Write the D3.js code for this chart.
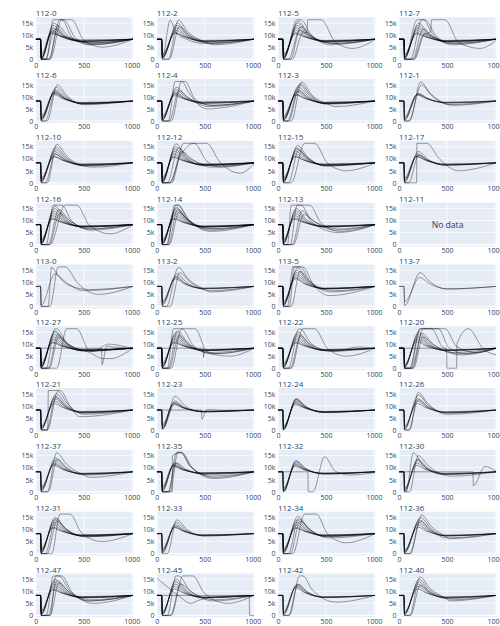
<!DOCTYPE html>
<html>
<head>
<meta charset="utf-8">
<script src="https://cdn.jsdelivr.net/npm/d3@7"></script>
<style>
  html, body { margin: 0; padding: 0; background: #fff; }
  svg { display: block; }
</style>
</head>
<body>
<div id="chart"></div>
<script>
// Panel titles, in grid order (4 per row)
const panelNames = [
  "112-0", "112-2", "112-5", "112-7",
  "112-6", "112-4", "112-3", "112-1",
  "112-10", "112-12", "112-15", "112-17",
  "112-16", "112-14", "112-13", "112-11",
  "113-0", "113-2", "113-5", "113-7",
  "112-27", "112-25", "112-22", "112-20",
  "112-21", "112-23", "112-24", "112-26",
  "112-37", "112-35", "112-32", "112-30",
  "112-31", "112-33", "112-34", "112-36",
  "112-47", "112-45", "112-42", "112-40"
];

// Axis ticks
const xTickValues = [0, 500, 1000];
const xTickLabels = ["0", "500", "1000"];
const yTickValues = [0, 5, 10, 15];
const yTickLabels = ["0", "5k", "10k", "15k"];

// Traces per panel: each trace is a flat list of x, value (thousands) pairs
const s112_0 = [
  [0,8.3,52,8.3,60,0,110,0,184,16.4,271,16.4,380,9,560,6,1012,8.3],
  [0,8.3,50,8.3,58,0,150,0,271,16.4,375,16.4,500,8,690,5,1012,8.3],
  [0,8.3,50,8.3,57,0.3,190,15,290,10.5,450,7.5,600,6.5,1012,8.3],
  [0,8.3,49,8.3,56,0.5,185,14,285,10,450,7.4,560,6.8,1012,8.3],
  [0,8.3,52,8.3,60,0,180,13,280,9.6,480,7.3,1012,8.3],
  [0,8.3,50,8.3,58,1,175,12,275,9.3,480,7.4,1012,8.3],
  [0,8.3,51,8.3,59,0.5,170,11.5,270,9.2,480,7.6,1012,8.3],
  [0,8.3,50,8.3,56,2,160,11,270,9.4,480,7.8,1012,8.3],
  [0,8.3,52,8.3,60,0,100,0,200,12.5,300,9.5,480,7.4,1012,8.3],
  [0,8.3,50,8.3,58,0,140,0,230,14,330,10,480,7.2,600,6.8,1012,8.3],
  [0,8.3,51,8.3,58,0.3,165,10.5,280,9.5,480,8,1012,8.3],
  [0,8.3,50,8.3,57,0,140,0,250,16.4,290,16.4,420,8.5,600,6,1012,8.3]
];
const s112_2 = [
  [0,8.3,50,8.3,56,0.5,140,16.2,200,11,300,8.5,500,6.5,1012,8.3],
  [0,8.3,52,8.3,60,0,120,0,225,16.2,320,11.5,480,7.5,600,6,1012,8.3],
  [0,8.3,50,8.3,57,0.3,215,15,315,10.8,480,7.4,580,6.5,1012,8.3],
  [0,8.3,51,8.3,58,0.5,210,14,310,10.2,480,7.4,1012,8.3],
  [0,8.3,50,8.3,58,0.8,205,13,305,9.8,480,7.3,1012,8.3],
  [0,8.3,52,8.3,60,1,200,12,300,9.4,480,7.4,1012,8.3],
  [0,8.3,50,8.3,57,1.5,190,11,290,9.2,480,7.6,1012,8.3],
  [0,8.3,49,8.3,56,2,185,10.8,290,9.4,480,7.8,1012,8.3],
  [0,8.3,52,8.3,60,0,130,0,235,13.5,330,10,520,6.8,1012,8.3]
];
const s112_5 = [
  [0,8.3,50,8.3,57,0,200,16.4,240,16.4,340,10.5,500,7,1012,8.3],
  [0,8.3,51,8.3,58,0.5,205,15,305,10.8,480,7.3,600,6.5,1012,8.3],
  [0,8.3,50,8.3,57,0.5,200,14,300,10.3,480,7.4,1012,8.3],
  [0,8.3,52,8.3,59,0.8,195,13,295,9.8,480,7.4,1012,8.3],
  [0,8.3,50,8.3,57,1,190,12,290,9.4,480,7.5,1012,8.3],
  [0,8.3,51,8.3,58,1.5,185,11,285,9.2,480,7.7,1012,8.3],
  [0,8.3,50,8.3,56,2,180,10.5,285,9.2,480,7.8,1012,8.3],
  [0,8.3,52,8.3,60,0,110,0,225,12,300,11,312,16.4,451,16.4,600,7,780,4.5,1012,8.2],
  [0,8.3,50,8.3,58,0,130,0,240,13.5,340,10,540,6,1012,8.3],
  [0,8.3,52,8.3,60,0,150,0,260,11,360,9,560,6.5,1012,8.3],
  [0,8.3,50,8.3,57,0.3,210,15.8,310,11,480,7.2,1012,8.3]
];
const s112_7 = [
  [0,8.3,50,8.3,57,0,190,16.4,250,16.4,350,10.5,500,7,1012,8.3],
  [0,8.3,52,8.3,60,0,120,0,240,16.4,270,16.4,380,10,520,6.5,1012,8.3],
  [0,8.3,51,8.3,58,0.5,205,15,305,10.8,480,7.3,1012,8.3],
  [0,8.3,50,8.3,57,0.5,200,14,300,10.3,480,7.4,1012,8.3],
  [0,8.3,52,8.3,59,0.8,195,13,295,9.8,480,7.4,1012,8.3],
  [0,8.3,50,8.3,57,1,190,12,290,9.4,480,7.5,1012,8.3],
  [0,8.3,51,8.3,58,1.5,185,11,285,9.2,480,7.7,1012,8.3],
  [0,8.3,52,8.3,60,0,150,0,250,10,330,11.5,340,16.4,479,16.4,620,7,845,4.5,1012,7.8],
  [0,8.3,50,8.3,58,0,140,0,250,12.5,350,9.6,560,6,1012,8.3],
  [0,8.3,51,8.3,59,0,160,0,270,10.5,380,8.8,600,6.5,1012,8.3],
  [0,8.3,50,8.3,56,2,180,10.5,285,9.2,480,7.8,1012,8.3]
];
const s112_6 = [
  [0,8.3,50,8.3,57,0,120,0,225,15,325,10.5,500,6.8,1012,8.3],
  [0,8.3,52,8.3,59,0.3,215,14,315,10.2,490,7,1012,8.3],
  [0,8.3,50,8.3,57,0.5,205,13,305,9.8,480,7.2,1012,8.3],
  [0,8.3,51,8.3,58,0.8,200,12.5,300,9.6,480,7.3,1012,8.3],
  [0,8.3,50,8.3,57,1,195,12,295,9.4,480,7.4,1012,8.3],
  [0,8.3,52,8.3,59,1.5,190,11.5,290,9.3,480,7.5,1012,8.3],
  [0,8.3,50,8.3,56,2,185,11,285,9.2,480,7.7,1012,8.3],
  [0,8.3,51,8.3,58,0,100,0,200,11.8,300,9.5,480,7.3,1012,8.3]
];
const s112_4 = [
  [0,8.3,50,8.3,57,0,120,0,191,16.4,295,16.4,400,9,560,6.5,1012,8.3],
  [0,8.3,52,8.3,60,0,150,0,260,16.4,330,12,520,5,1012,8.3],
  [0,8.3,50,8.3,57,0.3,205,14,305,10.3,480,7.2,600,6.5,1012,8.3],
  [0,8.3,51,8.3,58,0.5,200,13,300,9.8,480,7.3,1012,8.3],
  [0,8.3,50,8.3,57,1,195,12,295,9.4,480,7.4,1012,8.3],
  [0,8.3,52,8.3,59,1.5,190,11.5,290,9.3,480,7.6,1012,8.3],
  [0,8.3,50,8.3,56,2,185,11,285,9.2,480,7.8,1012,8.3],
  [0,8.3,51,8.3,58,0,130,0,230,12.5,330,9.6,540,6,1012,8.3],
  [0,8.3,50,8.3,57,0.5,180,10.5,285,9.2,480,7.9,1012,8.3]
];
const s112_3 = [
  [0,8.3,50,8.3,57,0,139,0,250,16.2,350,11,520,7,600,6,1012,8.3],
  [0,8.3,51,8.3,58,0.3,225,15,325,10.8,490,7.2,1012,8.3],
  [0,8.3,50,8.3,57,0.5,215,14,315,10.3,480,7.3,1012,8.3],
  [0,8.3,52,8.3,59,0.8,210,13,310,9.8,480,7.4,1012,8.3],
  [0,8.3,50,8.3,57,1,200,12,300,9.4,480,7.5,1012,8.3],
  [0,8.3,51,8.3,58,1.5,190,11,290,9.2,480,7.7,1012,8.3],
  [0,8.3,50,8.3,56,2,185,10.8,285,9.3,480,7.8,1012,8.3],
  [0,8.3,52,8.3,60,0,110,0,235,15.5,335,11,500,7,1012,8.3],
  [0,8.3,50,8.3,58,0,100,0,210,12.5,310,9.6,480,7.3,1012,8.3]
];
const s112_1 = [
  [0,8.3,50,8.3,57,0,110,0,225,16.2,325,11.5,500,7,560,6.5,1012,8.3],
  [0,8.3,51,8.3,58,0,100,0,235,15,335,10.8,520,6.8,1012,8.3],
  [0,8.3,50,8.3,57,0.5,195,11.2,300,9.3,480,7.6,1012,8.3],
  [0,8.3,52,8.3,59,1,190,11,295,9.2,480,7.7,1012,8.3],
  [0,8.3,50,8.3,56,1.5,185,10.8,290,9.2,480,7.8,1012,8.3],
  [0,8.3,51,8.3,58,0.5,200,11.5,300,9.4,500,7.4,1012,8.3]
];
const s112_10 = [
  [0,8.3,50,8.3,57,0,120,0,219,16,320,11.2,500,7,600,6.5,1012,8.3],
  [0,8.3,51,8.3,58,0.3,210,15,310,10.8,490,7.2,1012,8.3],
  [0,8.3,50,8.3,57,0.5,205,14,305,10.3,480,7.3,1012,8.3],
  [0,8.3,52,8.3,59,0.8,200,13,300,9.8,480,7.4,1012,8.3],
  [0,8.3,50,8.3,57,1,195,12,295,9.4,480,7.5,1012,8.3],
  [0,8.3,51,8.3,58,1.5,190,11,290,9.2,480,7.7,1012,8.3],
  [0,8.3,50,8.3,56,2,185,10.8,285,9.3,480,7.8,1012,8.3],
  [0,8.3,52,8.3,60,0,100,0,205,12,305,9.5,520,7,1012,8.3]
];
const s112_12 = [
  [0,8.3,52,8.3,60,0,156,0,278,16.4,521,16.4,650,9,868,4,1012,8],
  [0,8.3,50,8.3,57,0,130,0,243,11,389,16.4,520,9,660,6.5,1012,8.3],
  [0,8.3,50,8.3,57,0,200,16.2,300,11,480,7.2,1012,8.3],
  [0,8.3,51,8.3,58,0.3,195,15,295,10.6,480,7.3,1012,8.3],
  [0,8.3,50,8.3,57,0.5,190,14,290,10.2,480,7.4,1012,8.3],
  [0,8.3,52,8.3,59,0.8,185,13,285,9.8,480,7.4,1012,8.3],
  [0,8.3,50,8.3,57,1,180,12,280,9.4,480,7.5,1012,8.3],
  [0,8.3,51,8.3,58,1.5,175,11,275,9.2,480,7.7,1012,8.3],
  [0,8.3,50,8.3,56,2,170,10.5,275,9.2,480,7.8,1012,8.3],
  [0,8.3,52,8.3,60,0,140,0,260,13,360,10,560,6.5,1012,8.3],
  [0,8.3,50,8.3,58,0,110,0,225,14.5,325,10.5,600,7,1012,8.3]
];
const s112_15 = [
  [0,8.3,50,8.3,57,0,139,0,278,16.4,382,16.4,520,8,712,5,1012,8.3],
  [0,8.3,51,8.3,58,0.3,205,15.5,305,11,490,7,1012,8.3],
  [0,8.3,50,8.3,57,0.5,200,14.5,300,10.6,480,7.2,1012,8.3],
  [0,8.3,52,8.3,59,0.5,195,14,295,10.3,480,7.3,1012,8.3],
  [0,8.3,50,8.3,57,0.8,190,13,290,9.8,480,7.4,1012,8.3],
  [0,8.3,51,8.3,58,1,185,12,285,9.4,480,7.5,1012,8.3],
  [0,8.3,50,8.3,56,1.5,180,11,280,9.2,480,7.7,1012,8.3],
  [0,8.3,52,8.3,60,0,110,0,215,13.5,315,10,520,7,1012,8.3],
  [0,8.3,50,8.3,57,2,175,10.8,280,9.3,480,7.8,1012,8.3]
];
const s112_17 = [
  [0,8.3,52,8.3,60,0,184,0,186,16.4,288,16.4,420,10,618,5,1012,8.3],
  [0,8.3,50,8.3,57,0.3,200,13,300,9.8,480,7.3,1012,8.3],
  [0,8.3,51,8.3,58,0.5,195,12,295,9.4,480,7.4,1012,8.3],
  [0,8.3,50,8.3,57,1,190,11.5,290,9.3,480,7.5,1012,8.3],
  [0,8.3,52,8.3,59,1.5,185,11,285,9.2,480,7.7,1012,8.3],
  [0,8.3,50,8.3,56,2,180,10.8,285,9.3,480,7.8,1012,8.3],
  [0,8.3,51,8.3,58,0,100,0,205,11.5,305,9.4,480,7.4,1012,8.3]
];
const s112_16 = [
  [0,8.3,50,8.3,57,0,110,0,184,16.4,271,16.4,380,9.5,560,6.5,1012,8.3],
  [0,8.3,52,8.3,60,0,150,0,306,16.4,427,16.4,560,8,774,4.5,1012,8.2],
  [0,8.3,50,8.3,57,0.3,200,16,300,11,480,7.3,1012,8.3],
  [0,8.3,51,8.3,58,0.3,195,15,295,10.7,480,7.3,1012,8.3],
  [0,8.3,50,8.3,57,0.5,190,14,290,10.2,480,7.4,1012,8.3],
  [0,8.3,52,8.3,59,0.8,185,13,285,9.8,480,7.4,1012,8.3],
  [0,8.3,50,8.3,57,1,180,12,280,9.4,480,7.5,1012,8.3],
  [0,8.3,51,8.3,58,1.5,175,11,275,9.2,480,7.7,1012,8.3],
  [0,8.3,50,8.3,56,2,170,10.5,275,9.2,480,7.8,1012,8.3],
  [0,8.3,52,8.3,60,0,140,0,250,13,350,10,560,6.5,1012,8.3],
  [0,8.3,50,8.3,58,0,130,0,240,14.5,340,10.5,580,6,1012,8.3]
];
const s112_14 = [
  [0,8.3,50,8.3,57,0,110,0,185,16.4,225,16.4,330,10.5,560,5.5,1012,8.3],
  [0,8.3,51,8.3,58,0,100,0,200,16.4,215,16.4,320,10.8,520,6.5,1012,8.3],
  [0,8.3,50,8.3,57,0.3,205,15.5,305,10.8,480,7.2,1012,8.3],
  [0,8.3,52,8.3,59,0.3,200,15,300,10.6,480,7.3,1012,8.3],
  [0,8.3,50,8.3,57,0.5,195,14,295,10.2,480,7.4,1012,8.3],
  [0,8.3,51,8.3,58,0.8,190,13,290,9.8,480,7.4,1012,8.3],
  [0,8.3,50,8.3,57,1,185,12,285,9.4,480,7.5,1012,8.3],
  [0,8.3,52,8.3,59,1.5,180,11,280,9.2,480,7.6,1012,8.3],
  [0,8.3,50,8.3,56,2,175,10.5,280,9.2,480,7.8,1012,8.3],
  [0,8.3,51,8.3,58,0,130,0,230,13.5,330,10,560,6,1012,8.3],
  [0,8.3,50,8.3,57,0,120,0,215,14.5,315,10.5,600,6.5,1012,8.3]
];
const s112_13 = [
  [0,8.3,50,8.3,57,0,100,0,139,16.4,243,16.4,350,9.5,625,5,1012,8.3],
  [0,8.3,52,8.3,60,0,130,0,200,16.4,330,16.4,450,9,650,5.5,1012,8.3],
  [0,8.3,50,8.3,57,0.3,190,15,290,10.7,480,7.3,1012,8.3],
  [0,8.3,51,8.3,58,0.5,185,14,285,10.2,480,7.4,1012,8.3],
  [0,8.3,50,8.3,57,0.8,180,13,280,9.8,480,7.4,1012,8.3],
  [0,8.3,52,8.3,59,1,175,12,275,9.4,480,7.5,1012,8.3],
  [0,8.3,50,8.3,57,1.5,170,11,275,9.2,480,7.7,1012,8.3],
  [0,8.3,51,8.3,56,2,165,10.5,270,9.2,480,7.8,1012,8.3],
  [0,8.3,50,8.3,58,0,150,0,250,14,350,10.5,600,6,1012,8.3],
  [0,8.3,52,8.3,60,0,160,0,270,12.5,370,9.8,640,6.5,1012,8.3]
];
const s113_0 = [
  [0,8.3,50,8.3,57,0,130,0,165,16.2,230,13,330,9,560,7,1012,8.3],
  [0,8.3,50,8.3,57,0,149,0,236,16.4,306,16.4,440,9.5,653,5,1012,8.3],
  [0,8.3,51,8.3,58,0.5,201,13.5,300,10.5,500,6.5,1012,8.3]
];
const s113_2 = [
  [0,8.3,50,8.3,57,0,100,0,225,16.2,325,11.5,500,7,560,6,1012,8.3],
  [0,8.3,52,8.3,60,0,139,0,240,14,340,10.3,550,6.5,1012,8.3],
  [0,8.3,50,8.3,57,0.5,210,13.5,310,10,480,7.3,1012,8.3],
  [0,8.3,51,8.3,58,1,200,12.5,300,9.6,480,7.4,1012,8.3],
  [0,8.3,50,8.3,57,1.5,195,12,295,9.4,480,7.5,1012,8.3],
  [0,8.3,52,8.3,59,2,190,11.5,290,9.3,480,7.6,1012,8.3]
];
const s113_5 = [
  [0,8.3,50,8.3,57,0,100,0,156,16.4,260,16.4,370,9,538,4.5,1012,8.3],
  [0,8.3,52,8.3,60,0,120,0,170,16.4,230,16.4,340,10,560,6,1012,8.3],
  [0,8.3,50,8.3,57,0.3,205,16,305,11,480,7.2,1012,8.3],
  [0,8.3,51,8.3,58,0.5,200,15,300,10.7,480,7.3,1012,8.3],
  [0,8.3,50,8.3,57,0.8,195,14,295,10.2,480,7.4,1012,8.3],
  [0,8.3,52,8.3,59,1,190,13,290,9.8,480,7.4,1012,8.3],
  [0,8.3,50,8.3,57,1.5,185,12,285,9.4,480,7.5,1012,8.3],
  [0,8.3,51,8.3,58,2,180,11.5,280,9.3,480,7.6,1012,8.3],
  [0,8.3,50,8.3,58,0,140,0,230,14.5,330,10.5,580,6.5,1012,8.3]
];
const s113_7 = [
  [0,8.3,50,8.3,58,0.3,219,14,320,10.3,500,7.2,1012,8.3],
  [0,8.3,52,8.3,60,2,215,12,315,9.5,500,7.3,1012,8.3]
];
const s112_27 = [
  [0,8.3,50,8.3,57,0,110,0,200,16.4,215,16.4,320,10.8,520,7,1012,8.3],
  [0,8.3,50,8.3,57,0,219,0,323,16.4,427,16.4,566,7,700,7.5,1012,8.3],
  [0,8.3,686,8.3,690,1.5,740,9.2,800,8.8,1012,8.5],
  [0,8.3,50,8.3,57,0.3,200,15.5,300,11,480,7.3,1012,8.3],
  [0,8.3,51,8.3,58,0.5,195,15,295,10.7,480,7.3,1012,8.3],
  [0,8.3,50,8.3,57,0.5,190,14,290,10.2,480,7.4,1012,8.3],
  [0,8.3,52,8.3,59,0.8,185,13,285,9.8,480,7.4,1012,8.3],
  [0,8.3,50,8.3,57,1,180,12,280,9.4,480,7.5,1012,8.3],
  [0,8.3,51,8.3,58,1.5,175,11,275,9.2,480,7.7,1012,8.3],
  [0,8.3,50,8.3,56,2,170,10.5,275,9.2,480,7.8,1012,8.3],
  [0,8.3,52,8.3,60,0,140,0,240,13,340,9.8,600,7,757,10,1012,8],
  [0,8.3,50,8.3,58,0,130,0,230,14,330,10.2,560,6.5,705,4,775,4,1012,8.3]
];
const s112_25 = [
  [0,8.3,50,8.3,57,0,110,0,174,16.4,260,16.4,380,9.5,560,6,764,5,1012,8.3],
  [0,8.3,52,8.3,60,0,150,0,260,16.4,400,16.4,520,7,620,6,1012,8.3],
  [0,8.3,482,8.3,486,4.5,500,7,620,7.5,1012,8.3],
  [0,8.3,50,8.3,57,0.3,200,15,300,10.7,480,7.3,1012,8.3],
  [0,8.3,51,8.3,58,0.5,195,14,295,10.2,480,7.4,1012,8.3],
  [0,8.3,50,8.3,57,0.8,190,13,290,9.8,480,7.4,1012,8.3],
  [0,8.3,52,8.3,59,1,185,12,285,9.4,480,7.5,1012,8.3],
  [0,8.3,50,8.3,57,1.5,180,11,280,9.2,480,7.7,1012,8.3],
  [0,8.3,51,8.3,56,2,175,10.5,280,9.2,480,7.8,1012,8.3],
  [0,8.3,50,8.3,58,0,130,0,230,13.5,330,10,560,6.5,1012,8.3],
  [0,8.3,52,8.3,60,0,120,0,215,15.5,315,11,580,6,1012,8.3]
];
const s112_22 = [
  [0,8.3,50,8.3,57,0,139,0,260,16.4,382,16.4,520,8,712,5,1012,8.3],
  [0,8.3,52,8.3,60,0,110,0,220,16.4,232,16.4,340,10.5,540,7,1012,8.3],
  [0,8.3,50,8.3,57,0.3,205,15,305,10.7,480,7.3,1012,8.3],
  [0,8.3,51,8.3,58,0.5,200,14,300,10.2,480,7.4,1012,8.3],
  [0,8.3,50,8.3,57,0.8,195,13,295,9.8,480,7.4,1012,8.3],
  [0,8.3,52,8.3,59,1,190,12,290,9.4,480,7.5,1012,8.3],
  [0,8.3,50,8.3,57,1.5,185,11,285,9.2,480,7.7,1012,8.3],
  [0,8.3,51,8.3,56,2,180,10.5,285,9.2,480,7.8,1012,8.3],
  [0,8.3,50,8.3,58,0,130,0,235,13.5,335,10,600,7,830,8.8,1012,8.3]
];
const s112_20 = [
  [0,8.3,50,8.3,57,0,110,0,219,16.4,340,16.4,450,9,620,6,1012,8.3],
  [0,8.3,52,8.3,60,0,120,0,219,16.4,410,16.4,520,8.5,700,6,1012,8.3],
  [0,8.3,50,8.3,57,0,140,0,250,16.4,480,16.4,600,9,800,6.5,1012,8.3],
  [0,8.3,495,8.3,500,0,600,0,603,10,722,16.4,878,8,1012,5.5],
  [0,8.3,50,8.3,57,0.3,205,15,305,10.7,480,7.3,1012,8.3],
  [0,8.3,52,8.3,59,0.5,200,14,300,10.2,480,7.4,1012,8.3],
  [0,8.3,50,8.3,57,0.8,195,13,295,9.8,480,7.4,1012,8.3],
  [0,8.3,51,8.3,58,1,190,12,290,9.4,480,7.5,1012,8.3],
  [0,8.3,50,8.3,57,1.5,185,11,285,9.2,480,7.7,1012,8.3],
  [0,8.3,52,8.3,60,0,150,0,250,13,350,10,650,5.5,1012,8.3],
  [0,8.3,50,8.3,58,0,130,0,240,14.5,340,10.5,560,6.5,1012,8.3]
];
const s112_21 = [
  [0,8.3,50,8.3,57,0,125,0,132,16.4,253,16.4,370,9,460,5.5,1012,8.3],
  [0,8.3,52,8.3,60,0,122,0,230,16,330,11,500,6.5,1012,8.3],
  [0,8.3,50,8.3,57,0.3,215,15,315,10.6,480,7.2,1012,8.3],
  [0,8.3,51,8.3,58,0.5,205,14,305,10.2,480,7.3,1012,8.3],
  [0,8.3,50,8.3,57,0.8,200,13,300,9.8,480,7.4,1012,8.3],
  [0,8.3,52,8.3,59,1,195,12,295,9.4,480,7.5,1012,8.3],
  [0,8.3,50,8.3,57,1.5,190,11,290,9.2,480,7.7,1012,8.3],
  [0,8.3,51,8.3,58,0,110,0,210,13.5,310,9.8,500,7,1012,8.3]
];
const s112_23 = [
  [0,8.3,50,8.3,57,0.3,191,14,290,10.2,480,7.5,1012,8.3],
  [0,8.3,52,8.3,59,0.5,185,12,285,9.4,480,7.6,1012,8.3],
  [0,8.3,50,8.3,57,1,180,11.5,280,9.3,480,7.7,1012,8.3],
  [0,8.3,51,8.3,58,1.5,175,11,275,9.2,480,7.7,1012,8.3],
  [0,8.3,465,8.3,469,4.5,520,8.5,700,8.2,1012,8.3],
  [0,8.3,50,8.3,56,2,170,10.5,275,9.1,480,7.8,1012,8.3],
  [0,8.3,52,8.3,60,0.5,190,11,290,9.2,480,7.6,1012,8.3]
];
const s112_24 = [
  [0,8.3,50,8.3,57,0,190,13,290,9.8,480,7.3,1012,8.3],
  [0,8.3,51,8.3,58,0.3,188,12.5,288,9.6,480,7.4,1012,8.3],
  [0,8.3,50,8.3,57,0.5,185,12,285,9.4,480,7.4,1012,8.3],
  [0,8.3,52,8.3,59,0.8,182,11.5,282,9.3,480,7.5,1012,8.3],
  [0,8.3,50,8.3,57,1,180,11,280,9.2,480,7.6,1012,8.3],
  [0,8.3,51,8.3,58,1.5,178,10.5,280,9.1,480,7.7,1012,8.3],
  [0,8.3,50,8.3,56,0,190,12.8,290,9.7,480,7.3,1012,8.3]
];
const s112_26 = [
  [0,8.3,50,8.3,57,0,110,0,201,15.5,300,11,500,6.5,1012,8.3],
  [0,8.3,52,8.3,59,0.3,200,14.5,300,10.5,500,7,1012,8.3],
  [0,8.3,50,8.3,57,0.5,195,13,295,9.8,480,7.3,1012,8.3],
  [0,8.3,51,8.3,58,1,190,12,290,9.4,480,7.4,1012,8.3],
  [0,8.3,50,8.3,57,1.5,185,11,285,9.2,480,7.6,1012,8.3],
  [0,8.3,52,8.3,60,0,100,0,200,12.5,300,9.6,500,7.2,1012,8.3]
];
const s112_37 = [
  [0,8.3,50,8.3,57,0,120,0,219,16.2,320,11.5,500,7,566,6,1012,8.3],
  [0,8.3,52,8.3,59,0.3,205,14,305,10.2,480,7.3,1012,8.3],
  [0,8.3,50,8.3,57,0.5,200,13,300,9.8,480,7.4,1012,8.3],
  [0,8.3,51,8.3,58,1,195,12,295,9.4,480,7.5,1012,8.3],
  [0,8.3,50,8.3,57,1.5,190,11.5,290,9.3,480,7.6,1012,8.3],
  [0,8.3,52,8.3,59,2,185,11,285,9.2,480,7.7,1012,8.3],
  [0,8.3,50,8.3,58,0,130,0,225,13.5,325,10,520,7,1012,8.3]
];
const s112_35 = [
  [0,8.3,50,8.3,57,0,120,0,208,16.4,260,16.4,370,10,590,5.5,1012,8.3],
  [0,8.3,52,8.3,60,0,160,0,163,15,250,16.2,350,10.5,600,6,1012,8.3],
  [0,8.3,50,8.3,57,0,140,0,220,16.4,250,16.4,350,10.5,560,6.5,1012,8.3],
  [0,8.3,51,8.3,58,0.3,185,12,285,9.4,480,7.5,1012,8.3],
  [0,8.3,50,8.3,57,0.5,180,11.5,280,9.3,480,7.6,1012,8.3],
  [0,8.3,52,8.3,59,1,175,11,275,9.2,480,7.7,1012,8.3],
  [0,8.3,50,8.3,57,1.5,170,10.8,275,9.2,480,7.8,1012,8.3],
  [0,8.3,51,8.3,56,2,165,10.5,270,9.1,480,7.9,1012,8.3],
  [0,8.3,50,8.3,58,0,120,0,200,12,300,9.5,500,7.2,1012,8.3]
];
const s112_32 = [
  [0,8.3,50,8.3,57,0,185,13,285,9.8,480,7.4,1012,8.3],
  [0,8.3,51,8.3,58,0.3,182,12,282,9.4,480,7.5,1012,8.3],
  [0,8.3,50,8.3,57,0.5,180,11.5,280,9.3,480,7.6,1012,8.3],
  [0,8.3,52,8.3,59,1,178,11,278,9.2,480,7.7,1012,8.3],
  [0,8.3,50,8.3,57,1.5,175,10.5,278,9.1,480,7.8,1012,8.3],
  [0,8.3,312,8.3,316,0,365,0,486,14.5,600,8.5,747,7,1012,8],
  [0,8.3,51,8.3,58,0,190,12.5,290,9.6,480,7.4,1012,8.3]
];
const s112_30 = [
  [0,8.3,50,8.3,57,0,75,0,149,16.2,250,11,450,7.2,1012,8.3],
  [0,8.3,52,8.3,60,0,110,0,201,15,300,11,550,6.5,1012,8.3],
  [0,8.3,50,8.3,57,0.3,195,13.5,295,10,480,7.3,1012,8.3],
  [0,8.3,51,8.3,58,0.5,190,13,290,9.8,480,7.4,1012,8.3],
  [0,8.3,50,8.3,57,1,185,12,285,9.4,480,7.5,1012,8.3],
  [0,8.3,52,8.3,59,1.5,180,11,280,9.2,480,7.7,1012,8.3],
  [0,8.3,770,8.3,774,2.5,896,10.5,1012,8.5]
];
const s112_31 = [
  [0,8.3,50,8.3,57,0,167,0,253,16.4,358,16.4,480,8.5,688,5,1012,8.3],
  [0,8.3,52,8.3,59,0.3,200,15,300,10.7,480,7.3,1012,8.3],
  [0,8.3,50,8.3,57,0.5,195,14,295,10.2,480,7.4,1012,8.3],
  [0,8.3,51,8.3,58,0.8,190,13,290,9.8,480,7.4,1012,8.3],
  [0,8.3,50,8.3,57,1,185,12,285,9.4,480,7.5,1012,8.3],
  [0,8.3,52,8.3,59,1.5,180,11,280,9.2,480,7.7,1012,8.3],
  [0,8.3,50,8.3,56,2,175,10.5,280,9.2,480,7.8,1012,8.3],
  [0,8.3,51,8.3,58,0,100,0,210,14.5,310,10.5,520,7,1012,8.3],
  [0,8.3,50,8.3,57,0,120,0,220,13.5,320,10,540,7,1012,8.3]
];
const s112_33 = [
  [0,8.3,50,8.3,57,0,110,0,208,14,308,10.2,500,7.3,1012,8.3],
  [0,8.3,52,8.3,59,0.3,200,13,300,9.8,480,7.4,1012,8.3],
  [0,8.3,50,8.3,57,0.5,195,12,295,9.4,480,7.5,1012,8.3],
  [0,8.3,51,8.3,58,1,190,11.5,290,9.3,480,7.6,1012,8.3],
  [0,8.3,50,8.3,57,1.5,185,11,285,9.2,480,7.7,1012,8.3],
  [0,8.3,52,8.3,59,2,180,10.8,285,9.2,480,7.8,1012,8.3]
];
const s112_34 = [
  [0,8.3,50,8.3,57,0,156,0,278,16.4,400,16.4,520,8,712,4.5,1012,8.3],
  [0,8.3,52,8.3,59,0.3,208,15.5,308,11,480,7.2,1012,8.3],
  [0,8.3,50,8.3,57,0.5,200,14,300,10.2,480,7.3,1012,8.3],
  [0,8.3,51,8.3,58,0.8,195,13,295,9.8,480,7.4,1012,8.3],
  [0,8.3,50,8.3,57,1,190,12,290,9.4,480,7.5,1012,8.3],
  [0,8.3,52,8.3,59,1.5,185,11,285,9.2,480,7.7,1012,8.3],
  [0,8.3,50,8.3,56,2,180,10.5,285,9.2,480,7.8,1012,8.3],
  [0,8.3,51,8.3,58,0,130,0,230,13.5,330,10,540,6.5,1012,8.3],
  [0,8.3,50,8.3,57,0,110,0,215,14.5,315,10.5,500,7,1012,8.3]
];
const s112_36 = [
  [0,8.3,50,8.3,57,0,110,0,236,16,336,11.3,480,7.3,530,6.2,1012,8.3],
  [0,8.3,52,8.3,59,0.3,225,15,325,10.8,480,7.3,1012,8.3],
  [0,8.3,50,8.3,57,0.5,215,14,315,10.3,480,7.4,1012,8.3],
  [0,8.3,51,8.3,58,0.8,205,13,305,9.8,480,7.4,1012,8.3],
  [0,8.3,50,8.3,57,1,200,12,300,9.4,480,7.5,1012,8.3],
  [0,8.3,52,8.3,59,1.5,195,11,295,9.2,480,7.7,1012,8.3],
  [0,8.3,50,8.3,58,0,120,0,220,13.5,320,10,500,6.5,1012,8.3]
];
const s112_47 = [
  [0,8.3,50,8.3,57,0,110,0,184,16.4,271,16.4,380,9.5,600,5,1012,8.3],
  [0,8.3,52,8.3,60,0,150,0,210,16.4,240,16.4,350,10.5,560,6,1012,8.3],
  [0,8.3,50,8.3,57,0.3,200,15,300,10.7,480,7.3,1012,8.3],
  [0,8.3,51,8.3,58,0.5,195,14,295,10.2,480,7.4,1012,8.3],
  [0,8.3,50,8.3,57,0.8,190,13,290,9.8,480,7.4,1012,8.3],
  [0,8.3,52,8.3,59,1,185,12,285,9.4,480,7.5,1012,8.3],
  [0,8.3,50,8.3,57,1.5,180,11,280,9.2,480,7.7,1012,8.3],
  [0,8.3,51,8.3,56,2,175,10.5,280,9.2,480,7.8,1012,8.3],
  [0,8.3,50,8.3,58,0,150,0,240,13.5,340,10,580,6.5,1012,8.3],
  [0,8.3,52,8.3,60,0,130,0,225,14.5,325,10.5,560,6,1012,8.3]
];
const s112_45 = [
  [0,15.5,120,11.5,250,7.5,350,5,450,6.5,600,7.5,1012,8.3],
  [0,8.3,50,8.3,57,0,150,0,271,16.4,375,16.4,500,9,740,5,1012,8.3],
  [0,8.3,52,8.3,60,0,110,0,200,16.4,230,16.4,340,10.5,600,6,1012,8.3],
  [0,8.3,50,8.3,57,0.3,200,15,300,10.7,480,7.3,1012,8.3],
  [0,8.3,51,8.3,58,0.5,195,14,295,10.2,480,7.4,1012,8.3],
  [0,8.3,50,8.3,57,0.8,190,13,290,9.8,480,7.4,1012,8.3],
  [0,8.3,52,8.3,59,1,185,12,285,9.4,480,7.5,1012,8.3],
  [0,8.3,50,8.3,57,1.5,180,11,280,9.2,480,7.7,1012,8.3],
  [0,8.3,51,8.3,58,0,140,0,250,13,350,10,600,6.5,1012,8.3],
  [0,8.3,962,8.3,966,0,1012,0]
];
const s112_42 = [
  [0,8.3,50,8.3,57,0,120,0,226,16.4,260,16.4,360,10.5,607,5.5,1012,8.3],
  [0,8.3,52,8.3,59,0.3,200,13,300,9.8,480,7.5,1012,8.3],
  [0,8.3,50,8.3,57,0.5,195,12.5,295,9.6,480,7.5,1012,8.3],
  [0,8.3,51,8.3,58,1,190,12,290,9.4,480,7.6,1012,8.3],
  [0,8.3,50,8.3,57,1.5,185,11.5,285,9.3,480,7.7,1012,8.3],
  [0,8.3,52,8.3,60,0,110,0,210,12.8,310,9.7,500,7.4,1012,8.3]
];
const s112_40 = [
  [0,8.3,50,8.3,57,0,110,0,219,16,320,11.3,480,7.2,531,6,1012,8.3],
  [0,8.3,52,8.3,59,0.3,210,15,310,10.8,480,7.3,560,6.5,1012,8.3],
  [0,8.3,50,8.3,57,0.5,205,14,305,10.3,480,7.3,1012,8.3],
  [0,8.3,51,8.3,58,0.8,200,13,300,9.8,480,7.4,1012,8.3],
  [0,8.3,50,8.3,57,1,195,12,295,9.4,480,7.5,1012,8.3],
  [0,8.3,52,8.3,59,1.5,190,11,290,9.2,480,7.7,1012,8.3],
  [0,8.3,50,8.3,58,0,120,0,220,12.5,320,9.6,500,7,1012,8.3]
];

// Traces for each panel in grid order; null means the panel has no data
const panelSeries = [
  s112_0, s112_2, s112_5, s112_7,
  s112_6, s112_4, s112_3, s112_1,
  s112_10, s112_12, s112_15, s112_17,
  s112_16, s112_14, s112_13, null,
  s113_0, s113_2, s113_5, s113_7,
  s112_27, s112_25, s112_22, s112_20,
  s112_21, s112_23, s112_24, s112_26,
  s112_37, s112_35, s112_32, s112_30,
  s112_31, s112_33, s112_34, s112_36,
  s112_47, s112_45, s112_42, s112_40
];

// Layout
const width = 500, height = 626;
const nCols = 4;
const left0 = 35.7, pitchX = 121.1, panelW = 97.2;
const top0 = 17.3, pitchY = 61.8, panelH = 43.7;
const fontFamily = "'Open Sans', 'Noto Sans', sans-serif";
const textColor = "#2a3f5f";

const svg = d3.select("#chart").append("svg")
  .attr("width", width).attr("height", height)
  .attr("viewBox", `0 0 ${width} ${height}`);

const x = d3.scaleLinear().domain([0, 1012]).range([0, panelW]);
const y = d3.scaleLinear().domain([-0.75, 17.4]).range([panelH, 0]);

const line = d3.line()
  .x(d => x(d[0]))
  .y(d => y(d[1]))
  .curve(d3.curveMonotoneX);

const toPairs = flat => d3.range(0, flat.length, 2).map(i => [flat[i], flat[i + 1]]);

panelNames.forEach((name, idx) => {
  const col = idx % nCols, row = Math.floor(idx / nCols);
  const px = left0 + col * pitchX, py = top0 + row * pitchY;
  const g = svg.append("g").attr("transform", `translate(${px},${py})`);

  // plot background
  g.append("rect")
    .attr("width", panelW).attr("height", panelH)
    .attr("fill", "#e5ecf6");

  // grid
  g.selectAll("line.ygrid").data(yTickValues).join("line")
    .attr("class", "ygrid")
    .attr("x1", 0).attr("x2", panelW)
    .attr("y1", d => y(d)).attr("y2", d => y(d))
    .attr("stroke", "#fff")
    .attr("stroke-width", d => d === 0 ? 1.2 : 0.7);
  g.selectAll("line.xgrid").data(xTickValues).join("line")
    .attr("class", "xgrid")
    .attr("y1", 0).attr("y2", panelH)
    .attr("x1", d => x(d)).attr("x2", d => x(d))
    .attr("stroke", "#fff")
    .attr("stroke-width", d => d === 0 ? 1.2 : 0.7);

  // axes (labels only)
  const ax = g.append("g")
    .attr("transform", `translate(0,${panelH})`)
    .call(d3.axisBottom(x).tickValues(xTickValues)
      .tickFormat((d, i) => xTickLabels[i]).tickSize(0).tickPadding(1.6));
  const ay = g.append("g")
    .call(d3.axisLeft(y).tickValues(yTickValues)
      .tickFormat((d, i) => yTickLabels[i]).tickSize(0).tickPadding(2.4));
  [ax, ay].forEach(a => {
    a.select(".domain").remove();
    a.attr("font-family", fontFamily).attr("font-size", 7);
    a.selectAll("text").attr("fill", textColor);
  });

  // title
  svg.append("text")
    .attr("x", px).attr("y", py - 0.9)
    .attr("font-family", fontFamily).attr("font-size", 8)
    .attr("fill", textColor)
    .text(name);

  const series = panelSeries[idx];
  if (!series) {
    g.append("text")
      .attr("x", panelW / 2).attr("y", panelH / 2)
      .attr("dy", "0.35em")
      .attr("text-anchor", "middle")
      .attr("font-family", fontFamily).attr("font-size", 8.6)
      .attr("fill", textColor)
      .text("No data");
    return;
  }

  const clipId = `clip-${idx}`;
  g.append("clipPath").attr("id", clipId)
    .append("rect").attr("width", panelW).attr("height", panelH);

  g.append("g").attr("clip-path", `url(#${clipId})`)
    .selectAll("path").data(series.map(toPairs)).join("path")
    .attr("d", line)
    .attr("fill", "none")
    .attr("stroke", "#000")
    .attr("stroke-opacity", 0.5)
    .attr("stroke-width", 0.75);
});
</script>
</body>
</html>
